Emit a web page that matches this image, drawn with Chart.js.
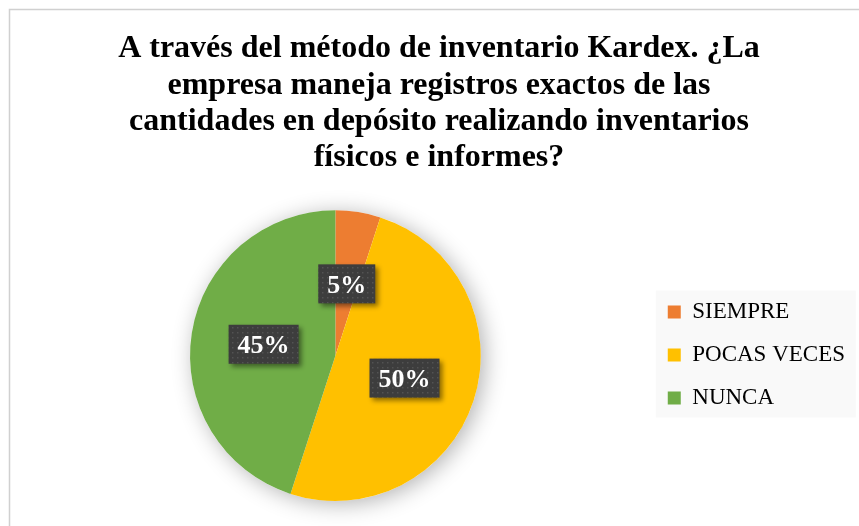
<!DOCTYPE html>
<html>
<head>
<meta charset="utf-8">
<script src="https://cdn.jsdelivr.net/npm/chart.js@4"></script>
<style>
  html, body { margin: 0; padding: 0; background: #fff; overflow: hidden; }
  #wrap { width: 859px; height: 526px; }
</style>
</head>
<body>
<div id="wrap"><canvas id="myChart" width="859" height="526"></canvas></div>
<script>
// Chart data
var categories = ['SIEMPRE', 'POCAS VECES', 'NUNCA'];
var values = [5, 50, 45];
var colors = ['#ED7D31', '#FFC000', '#70AD47'];
var titleLines = [
  'A través del método de inventario Kardex. ¿La',
  'empresa maneja registros exactos de las',
  'cantidades en depósito realizando inventarios',
  'físicos e informes?'
];

var serif = "'Liberation Serif', 'Times New Roman', serif";

// Frame line and grey legend background
var backgroundPlugin = {
  id: 'background',
  beforeDraw: function (chart) {
    var c = chart.ctx;
    c.save();
    c.strokeStyle = '#d0d0d0';
    c.lineWidth = 1.5;
    c.strokeRect(9.5, 9.5, 1200, 1200);
    var boxes = chart.legend.legendHitBoxes;
    if (boxes && boxes.length) {
      var first = boxes[0], last = boxes[boxes.length - 1];
      c.fillStyle = '#f9f9f9';
      c.fillRect(first.left - 12, first.top - 10, 200, last.top + last.height - first.top + 18);
    }
    c.restore();
  }
};

// Soft shadow under the whole pie
var pieShadowPlugin = {
  id: 'pieShadow',
  beforeDatasetsDraw: function (chart) {
    var arc = chart.getDatasetMeta(0).data[0];
    if (!arc) return;
    var c = chart.ctx;
    c.save();
    c.shadowColor = 'rgba(0,0,0,0.3)';
    c.shadowBlur = 22;
    c.shadowOffsetX = 4;
    c.shadowOffsetY = 3;
    c.fillStyle = '#fff';
    c.beginPath();
    c.arc(arc.x, arc.y, arc.outerRadius, 0, Math.PI * 2);
    c.fill();
    c.restore();
  }
};

// Percentage labels in dark dotted boxes
var dotPattern = null;
function getPattern(c) {
  if (dotPattern) return dotPattern;
  var p = document.createElement('canvas');
  p.width = 5; p.height = 5;
  var pc = p.getContext('2d');
  pc.fillStyle = '#3d3d3d';
  pc.fillRect(0, 0, 5, 5);
  pc.fillStyle = '#535353';
  pc.fillRect(2, 2, 1.5, 1.5);
  dotPattern = c.createPattern(p, 'repeat');
  return dotPattern;
}

var labelPlugin = {
  id: 'pctLabels',
  afterDatasetsDraw: function (chart) {
    var c = chart.ctx;
    var meta = chart.getDatasetMeta(0);
    var data = chart.data.datasets[0].data;
    var total = data.reduce(function (a, b) { return a + b; }, 0);
    c.save();
    c.font = 'bold 26px ' + serif;
    c.textAlign = 'center';
    c.textBaseline = 'middle';
    meta.data.forEach(function (arc, i) {
      var pos = arc.tooltipPosition();
      var text = Math.round(data[i] / total * 100) + '%';
      var w = c.measureText(text).width + 18;
      var h = 39;
      c.save();
      c.shadowColor = 'rgba(0,0,0,0.45)';
      c.shadowBlur = 5;
      c.shadowOffsetX = 3;
      c.shadowOffsetY = 3;
      c.fillStyle = getPattern(c);
      c.fillRect(pos.x - w / 2, pos.y - h / 2, w, h);
      c.restore();
      c.fillStyle = '#ffffff';
      c.fillText(text, pos.x, pos.y + 2);
    });
    c.restore();
  }
};

var ctx = document.getElementById('myChart').getContext('2d');

var chart = new Chart(ctx, {
  type: 'pie',
  data: {
    labels: categories,
    datasets: [{
      data: values,
      backgroundColor: colors,
      borderWidth: 0
    }]
  },
  options: {
    responsive: false,
    animation: false,
    layout: { padding: { left: 23, right: 4, top: 0, bottom: 25 } },
    plugins: {
      title: {
        display: true,
        text: titleLines,
        color: '#000',
        font: { family: serif, size: 32, weight: 'bold', lineHeight: 1.135 },
        padding: { top: 31, bottom: 34 }
      },
      legend: {
        position: 'right',
        // empty legend title only pushes the items down to the pie's middle
        title: { display: true, text: '', font: { size: 10, lineHeight: 1 }, padding: { top: 199, bottom: 0 } },
        labels: {
          color: '#000',
          font: { family: serif, size: 23 },
          boxWidth: 13,
          boxHeight: 13,
          padding: 20
        }
      },
      tooltip: { enabled: false }
    }
  },
  plugins: [backgroundPlugin, pieShadowPlugin, labelPlugin]
});
</script>
</body>
</html>
